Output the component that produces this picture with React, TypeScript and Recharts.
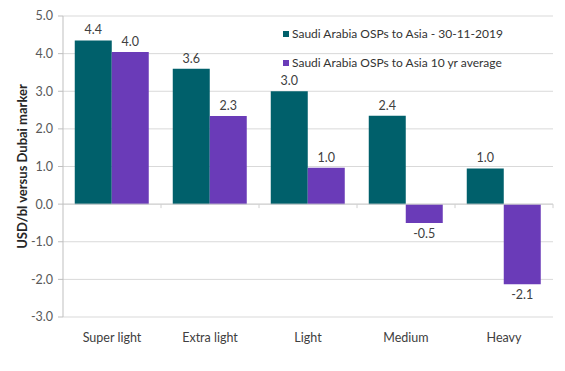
import React from 'react';
import {
    BarChart, Bar, XAxis, YAxis, CartesianGrid, Legend, LabelList, ReferenceLine,
} from 'recharts';

// カテゴリと系列値
const categories = ['Super light', 'Extra light', 'Light', 'Medium', 'Heavy'];
const latestValues = [4.35, 3.6, 3.0, 2.35, 0.95];
const latestLabels = ['4.4', '3.6', '3.0', '2.4', '1.0'];
const averageValues = [4.04, 2.34, 0.97, -0.5, -2.13];
const averageLabels = ['4.0', '2.3', '1.0', '-0.5', '-2.1'];
const yTicks = [-3, -2, -1, 0, 1, 2, 3, 4, 5];

const LATEST_NAME = 'Saudi Arabia OSPs to Asia - 30-11-2019';
const AVERAGE_NAME = 'Saudi Arabia OSPs to Asia 10 yr average';

const TEAL = '#00606B';
const PURPLE = '#6A3BB8';
const FONT = 'Lato, "Open Sans", sans-serif';

const data = categories.map((name, i) => ({
    name,
    latest: latestValues[i],
    latestLabel: latestLabels[i],
    average: averageValues[i],
    averageLabel: averageLabels[i],
}));

// 凡例
const LegendContent = (props: any) => {
    const items = props.payload || [];
    return (
        <div style={{ fontFamily: FONT, fontSize: 12, color: '#333' }}>
            {items.map((item: any) => (
                <div key={item.value} style={{ display: 'flex', alignItems: 'center', height: 29 }}>
                    <span style={{ width: 6, height: 6, background: item.color, marginRight: 3, display: 'inline-block' }} />
                    <span>{item.value}</span>
                </div>
            ))}
        </div>
    );
};

// ゼロ線 + カテゴリ境界の目盛り
const ZeroLine = (props: any) => {
    const { x1, x2, y1 } = props;
    const step = (x2 - x1) / categories.length;
    return (
        <g>
            <line x1={x1} x2={x2} y1={y1} y2={y1} stroke="#d0d0d0" strokeWidth={1} />
            {categories.map((_, i) => (
                <line key={i} x1={x1 + step * (i + 1)} x2={x1 + step * (i + 1)} y1={y1} y2={y1 + 4} stroke="#d0d0d0" />
            ))}
        </g>
    );
};

export default function App() {
    return (
        <div style={{ position: 'absolute', left: 0, top: 0, width: 565, height: 371, background: '#fff' }}>
            <BarChart
                width={565}
                height={371}
                data={data}
                margin={{ top: 16, right: 12, bottom: 24, left: 0 }}
                barCategoryGap="12%"
                barGap={0}
            >
                <CartesianGrid vertical={false} stroke="#d9d9d9" />
                <XAxis
                    dataKey="name"
                    axisLine={false}
                    tickLine={false}
                    interval={0}
                    tick={{ fill: '#404040', fontSize: 12.5, fontFamily: FONT }}
                    tickMargin={10}
                />
                <YAxis
                    width={63}
                    domain={[-3, 5]}
                    ticks={yTicks}
                    tickFormatter={(v) => v.toFixed(1)}
                    axisLine={{ stroke: '#bfbfbf' }}
                    tickLine={{ stroke: '#bfbfbf' }}
                    tickSize={5}
                    tickMargin={5}
                    tick={{ fill: '#595959', fontSize: 12.5, fontFamily: FONT }}
                    label={{
                        value: 'USD/bl versus Dubai marker',
                        angle: -90,
                        position: 'insideLeft',
                        offset: 22,
                        style: { textAnchor: 'middle', fontWeight: 700, fontSize: 13, fill: '#262626', fontFamily: FONT },
                    }}
                />
                <ReferenceLine y={0} shape={<ZeroLine />} />
                <Legend
                    layout="vertical"
                    verticalAlign="middle"
                    align="center"
                    content={<LegendContent />}
                    wrapperStyle={{ left: 283, top: 19, width: 270 }}
                />
                <Bar dataKey="latest" name={LATEST_NAME} fill={TEAL} isAnimationActive={false}>
                    <LabelList dataKey="latestLabel" position="top" offset={6} fill="#404040" fontSize={12.5} fontFamily={FONT} />
                </Bar>
                <Bar dataKey="average" name={AVERAGE_NAME} fill={PURPLE} isAnimationActive={false}>
                    <LabelList dataKey="averageLabel" position="top" offset={6} fill="#404040" fontSize={12.5} fontFamily={FONT} />
                </Bar>
            </BarChart>
        </div>
    );
}
